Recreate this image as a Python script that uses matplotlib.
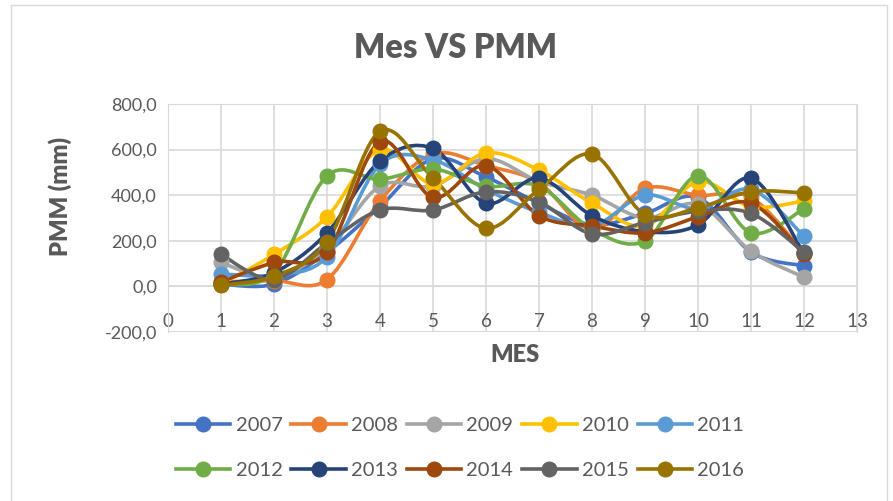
import numpy as np
import matplotlib.pyplot as plt
from matplotlib.path import Path
from matplotlib.patches import PathPatch, Rectangle
from matplotlib.lines import Line2D

plt.rcParams['font.family'] = ['Lato', 'DejaVu Sans']

months = list(range(1, 13))
years = ['2007', '2008', '2009', '2010', '2011', '2012', '2013', '2014', '2015', '2016']
colors = ['#4472C4', '#ED7D31', '#A5A5A5', '#FFC000', '#5B9BD5',
          '#70AD47', '#264478', '#9E480E', '#636363', '#997300']

pmm_2007 = [10, 10, 150, 350, 560, 480, 365, 270, 320, 390, 150, 90]
pmm_2008 = [20, 25, 30, 375, 580, 530, 455, 250, 430, 400, 390, 145]
pmm_2009 = [105, 40, 170, 440, 440, 560, 460, 400, 300, 360, 155, 40]
pmm_2010 = [10, 140, 305, 600, 450, 585, 510, 365, 265, 460, 350, 375]
pmm_2011 = [55, 50, 130, 535, 555, 425, 325, 265, 400, 340, 425, 220]
pmm_2012 = [10, 60, 485, 470, 515, 440, 440, 250, 200, 485, 235, 340]
pmm_2013 = [10, 60, 235, 550, 605, 365, 475, 310, 240, 270, 475, 145]
pmm_2014 = [20, 105, 150, 635, 390, 530, 310, 265, 235, 305, 365, 140]
pmm_2015 = [140, 30, 190, 335, 335, 415, 370, 230, 280, 330, 320, 150]
pmm_2016 = [5, 45, 195, 680, 475, 255, 425, 580, 315, 345, 415, 410]

series = [pmm_2007, pmm_2008, pmm_2009, pmm_2010, pmm_2011,
          pmm_2012, pmm_2013, pmm_2014, pmm_2015, pmm_2016]


def smooth_path(x, y):
    # bezier path like excel "smoothed line"
    pts = np.column_stack([x, y]).astype(float)
    verts = [pts[0]]
    codes = [Path.MOVETO]
    n = len(pts)
    for i in range(n - 1):
        p0 = pts[max(i - 1, 0)]
        p1 = pts[i]
        p2 = pts[i + 1]
        p3 = pts[min(i + 2, n - 1)]
        c1 = p1 + (p2 - p0) / 6.0
        c2 = p2 - (p3 - p1) / 6.0
        verts += [c1, c2, p2]
        codes += [Path.CURVE4] * 3
    return Path(verts, codes)


fig = plt.figure(figsize=(8.93, 5.01), dpi=100)
fig.patches.append(Rectangle((11 / 893, -0.01), 876 / 893, 1.0, transform=fig.transFigure,
                             fill=False, edgecolor='#D9D9D9', linewidth=1))
ax = fig.add_axes([168 / 893, 1 - 332 / 501, 689 / 893, 228 / 501])

handles = []
for yr, vals, c in zip(years, series, colors):
    patch = PathPatch(smooth_path(months, vals), facecolor='none', edgecolor=c,
                      linewidth=2.6, zorder=3, capstyle='round')
    ax.add_patch(patch)
    ax.plot(months, vals, 'o', color=c, markersize=10.5, zorder=4)
    handles.append(Line2D([], [], color=c, linewidth=2.6, marker='o', markersize=10.5))

ax.set_xlim(0, 13)
ax.set_ylim(-200, 800)
ax.set_xticks(range(0, 14))
ax.set_yticks(range(-200, 801, 200))
ax.set_yticklabels([f'{v:.1f}'.replace('.', ',') for v in range(-200, 801, 200)])
ax.grid(True, color='#D9D9D9', linewidth=1.2)
ax.set_axisbelow(True)
for s in ax.spines.values():
    s.set_color('#D9D9D9')
ax.spines['bottom'].set_position(('data', 0))
ax.axhline(-200, color='#D9D9D9', linewidth=1.5, zorder=0)
ax.tick_params(length=0, labelsize=13, colors='#595959', pad=8)
ax.tick_params(axis='x', labelsize=13.5, pad=19)

fig.text(455 / 893, 1 - 48 / 501, 'Mes VS PMM', ha='center', va='center',
         fontsize=23.5, fontweight='heavy', color='#595959')
fig.text(60 / 893, 1 - 197 / 501, 'PMM (mm)', ha='center', va='center', rotation=90,
         fontsize=17, fontweight='heavy', color='#595959')
fig.text(515 / 893, 1 - 355 / 501, 'MES', ha='center', va='center',
         fontsize=17, fontweight='heavy', color='#595959')

# row-major legend order (matplotlib fills columns first)
order = [0, 5, 1, 6, 2, 7, 3, 8, 4, 9]
fig.legend([handles[i] for i in order], [years[i] for i in order], loc='center',
           bbox_to_anchor=(460 / 893, 1 - 448 / 501),
           ncol=5, frameon=False, fontsize=14.5, labelcolor='#595959',
           handlelength=2.7, handletextpad=0.25, columnspacing=0.45, labelspacing=1.4)

fig.savefig('out.png', dpi=100)
